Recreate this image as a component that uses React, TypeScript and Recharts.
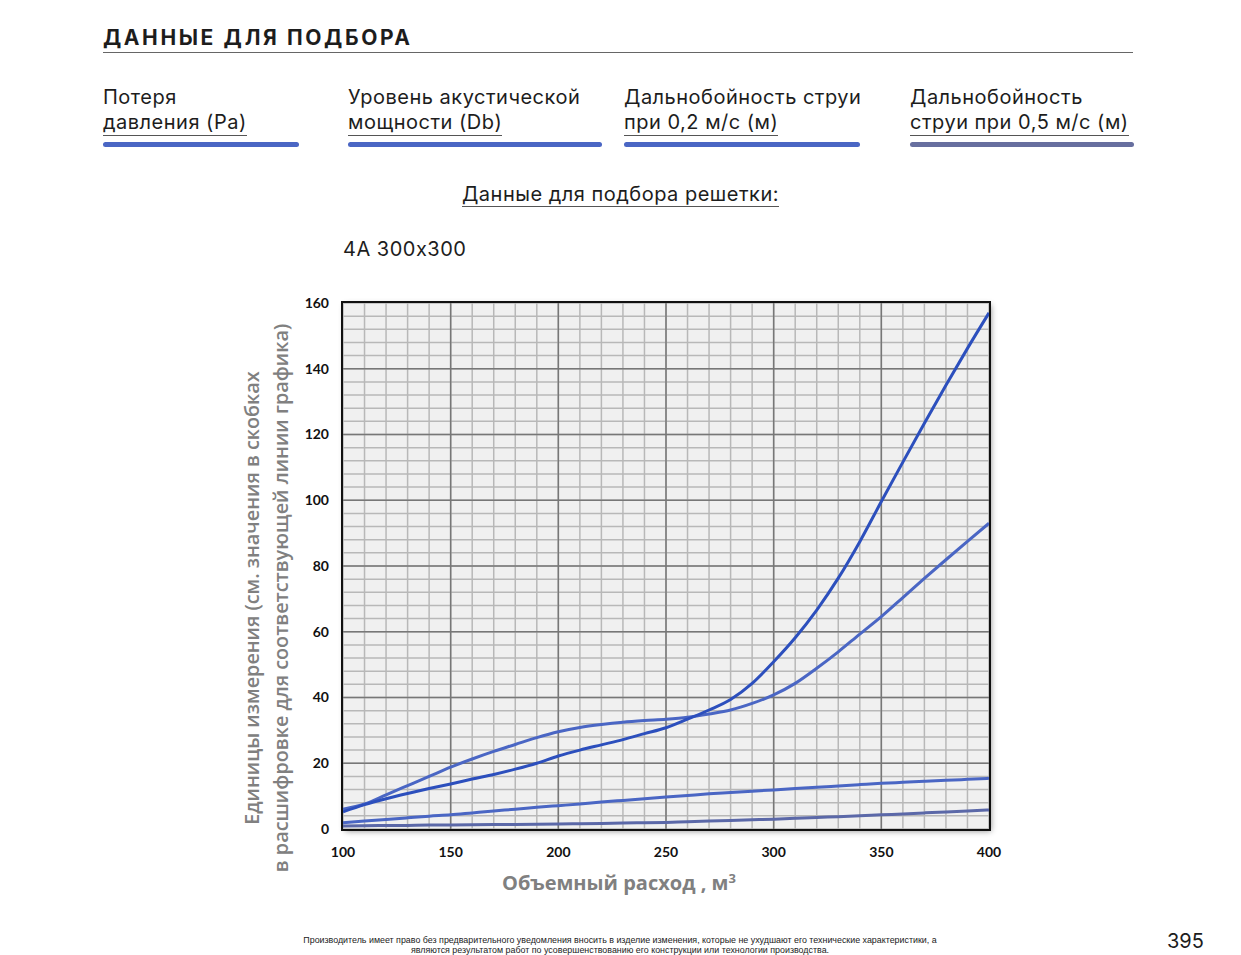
import React from 'react';
import { LineChart, Line, XAxis, YAxis, CartesianGrid, ReferenceLine } from 'recharts';

// расход, м3
const flow = [100, 110, 120, 130, 140, 150, 160, 170, 180, 190, 200, 210, 220, 230, 240, 250, 260, 270, 280, 290, 300, 310, 320, 330, 340, 350, 360, 370, 380, 390, 400];

// Потеря давления (Pa)
const pressure = [5.2, 7.4, 9.2, 10.8, 12.3, 13.7, 15.2, 16.6, 18.2, 20.0, 22.2, 24.0, 25.6, 27.2, 29.0, 30.8, 33.4, 36.2, 39.4, 44.3, 50.9, 58.2, 66.6, 76.3, 87.4, 99.6, 111.6, 123.4, 135.0, 146.2, 157.0];
// Уровень акустической мощности (Db)
const acoustic = [6.0, 7.6, 10.4, 13.2, 16.0, 18.8, 21.3, 23.6, 25.7, 27.8, 29.6, 30.9, 31.8, 32.5, 33.0, 33.4, 34.0, 35.0, 36.2, 38.2, 40.8, 44.3, 48.9, 53.9, 59.3, 64.6, 70.4, 76.2, 81.9, 87.5, 93.0];
// Дальнобойность струи при 0,2 м/с (м)
const range02 = [1.9, 2.4, 2.9, 3.4, 3.9, 4.3, 4.9, 5.5, 6.0, 6.6, 7.1, 7.6, 8.2, 8.7, 9.2, 9.7, 10.2, 10.7, 11.1, 11.5, 11.9, 12.3, 12.7, 13.1, 13.5, 13.9, 14.2, 14.5, 14.8, 15.1, 15.4];
// Дальнобойность струи при 0,5 м/с (м)
const range05 = [0.9, 1.0, 1.05, 1.1, 1.2, 1.25, 1.3, 1.35, 1.4, 1.45, 1.5, 1.6, 1.7, 1.8, 1.9, 2.0, 2.2, 2.4, 2.6, 2.8, 3.0, 3.25, 3.5, 3.75, 4.0, 4.3, 4.6, 4.9, 5.2, 5.5, 5.8];

const xTicks = [100, 150, 200, 250, 300, 350, 400];
const yTicks = [0, 20, 40, 60, 80, 100, 120, 140, 160];
const xMinor = [100, 110, 120, 130, 140, 150, 160, 170, 180, 190, 200, 210, 220, 230, 240, 250, 260, 270, 280, 290, 300, 310, 320, 330, 340, 350, 360, 370, 380, 390, 400];
const yMinor = [0, 4, 8, 12, 16, 20, 24, 28, 32, 36, 40, 44, 48, 52, 56, 60, 64, 68, 72, 76, 80, 84, 88, 92, 96, 100, 104, 108, 112, 116, 120, 124, 128, 132, 136, 140, 144, 148, 152, 156, 160];

const legendItems = [
  { l1: 'Потеря', l2: 'давления (Pa)', color: '#4a66c4', x: 103, w: 196 },
  { l1: 'Уровень акустической', l2: 'мощности (Db)', color: '#4a66c4', x: 348, w: 254 },
  { l1: 'Дальнобойность струи', l2: 'при 0,2 м/с (м)', color: '#4a66c4', x: 624, w: 236 },
  { l1: 'Дальнобойность', l2: 'струи при 0,5 м/с (м)', color: '#676f9f', x: 910, w: 224 },
];

const data = flow.map((f, i) => ({
  flow: f,
  pressure: pressure[i],
  acoustic: acoustic[i],
  range02: range02[i],
  range05: range05[i],
}));

const sans = 'Inter, "Noto Sans", sans-serif';
const tickFont = 'Lato, "Open Sans", sans-serif';

const abs = (left: number, top: number): React.CSSProperties => ({ position: 'absolute', left, top });

export default function App() {
  return (
    <div style={{ position: 'absolute', left: 0, top: 0, width: 1241, height: 955, background: '#fff', overflow: 'hidden', fontFamily: sans, color: '#1d1d1d', fontFeatureSettings: '"calt" 0' }}>
      <div style={{ ...abs(103, 25), fontSize: 21, fontWeight: 700, letterSpacing: 2.6, lineHeight: '26px' }}>
        ДАННЫЕ ДЛЯ ПОДБОРА
      </div>
      <div style={{ ...abs(103, 52), width: 1030, height: 1, background: '#666' }} />

      {legendItems.map((it) => (
        <div key={it.l2} style={{ ...abs(it.x, 85), width: it.w + 60, fontSize: 20, letterSpacing: 0.5 }}>
          <div style={{ lineHeight: '25px' }}>{it.l1}</div>
          <div style={{ lineHeight: '25px', display: 'inline-block', borderBottom: '1px solid #555' }}>{it.l2}</div>
          <div style={{ marginTop: 6, width: it.w, height: 5, borderRadius: 3, background: it.color }} />
        </div>
      ))}

      <div style={{ ...abs(0, 182), width: 1241, textAlign: 'center', fontSize: 20, letterSpacing: 0.5, lineHeight: '25px' }}>
        <span style={{ borderBottom: '1px solid #555' }}>Данные для подбора решетки:</span>
      </div>
      <div style={{ ...abs(343, 237), fontSize: 20, letterSpacing: 0.5, lineHeight: '25px' }}>4A 300x300</div>

      {/* тень под полем графика */}
      <div style={{ ...abs(343, 303), width: 646, height: 526, background: '#f0f0f0', boxShadow: '2px 2px 6px rgba(0,0,0,0.45)' }} />

      <div style={abs(290, 290)}>
        <LineChart width={720} height={580} data={data} margin={{ top: 13, right: 21, bottom: 0, left: 0 }}>
          <CartesianGrid
            fill="#f0f0f0"
            stroke="#b8b8b8"
            strokeWidth={1.5}
            verticalValues={xMinor}
            horizontalValues={yMinor}
          />
          {xTicks.slice(1, -1).map((v) => (
            <ReferenceLine key={'x' + v} x={v} stroke="#777" strokeWidth={1.5} />
          ))}
          {yTicks.slice(1, -1).map((v) => (
            <ReferenceLine key={'y' + v} y={v} stroke="#777" strokeWidth={1.5} />
          ))}
          <XAxis
            dataKey="flow"
            type="number"
            domain={[100, 400]}
            ticks={xTicks}
            interval={0}
            axisLine={false}
            tickLine={false}
            tickMargin={12}
            height={41}
            tick={{ fill: '#111', fontSize: 14, fontWeight: 700, fontFamily: tickFont }}
          />
          <YAxis
            type="number"
            domain={[0, 160]}
            ticks={yTicks}
            interval={0}
            axisLine={false}
            tickLine={false}
            tickMargin={8}
            width={53}
            tick={{ fill: '#111', fontSize: 14, fontWeight: 700, fontFamily: tickFont }}
          />
          <Line type="monotone" dataKey="range05" stroke="#5b68a8" strokeWidth={3} dot={false} isAnimationActive={false} />
          <Line type="monotone" dataKey="range02" stroke="#4a66c4" strokeWidth={3} dot={false} isAnimationActive={false} />
          <Line type="monotone" dataKey="acoustic" stroke="#4a66c4" strokeWidth={3} dot={false} isAnimationActive={false} />
          <Line type="monotone" dataKey="pressure" stroke="#2c4fbd" strokeWidth={3} dot={false} isAnimationActive={false} />
        </LineChart>
      </div>

      {/* рамка поля графика */}
      <div style={{ ...abs(341, 301), width: 646, height: 526, border: '2px solid #111', boxSizing: 'content-box', pointerEvents: 'none' }} />

      <div
        style={{
          ...abs(266, 598),
          transform: 'translate(-50%, -50%) rotate(-90deg)',
          whiteSpace: 'nowrap',
          textAlign: 'center',
          fontFamily: '"Open Sans", sans-serif',
          fontWeight: 600,
          fontSize: 19.8,
          lineHeight: '29px',
          color: '#808080',
        }}
      >
        Единицы измерения (см. значения в скобках
        <br />
        в расшифровке для соответствующей линии графика)
      </div>

      <div style={{ ...abs(419, 869), width: 400, textAlign: 'center', fontFamily: '"Open Sans", sans-serif', fontWeight: 700, fontSize: 20, color: '#808080', lineHeight: '28px' }}>
        Объемный расход , м<sup style={{ fontSize: 13, verticalAlign: 'top', position: 'relative', top: -5 }}>3</sup>
      </div>

      <div style={{ ...abs(0, 936), width: 1241, fontFamily: '"Liberation Sans Narrow", "Liberation Sans", sans-serif', fontSize: 8.9, lineHeight: '9.5px', color: '#222' }}>
        <div style={{ width: 660, marginLeft: 290, textAlign: 'center' }}>
          Производитель имеет право без предварительного уведомления вносить в изделие изменения, которые не ухудшают его технические характеристики, а являются результатом работ по усовершенствованию его конструкции или технологии производства.
        </div>
      </div>
      <div style={{ ...abs(1167, 932), fontSize: 20, lineHeight: '18px', color: '#1d1d1d' }}>395</div>
    </div>
  );
}
